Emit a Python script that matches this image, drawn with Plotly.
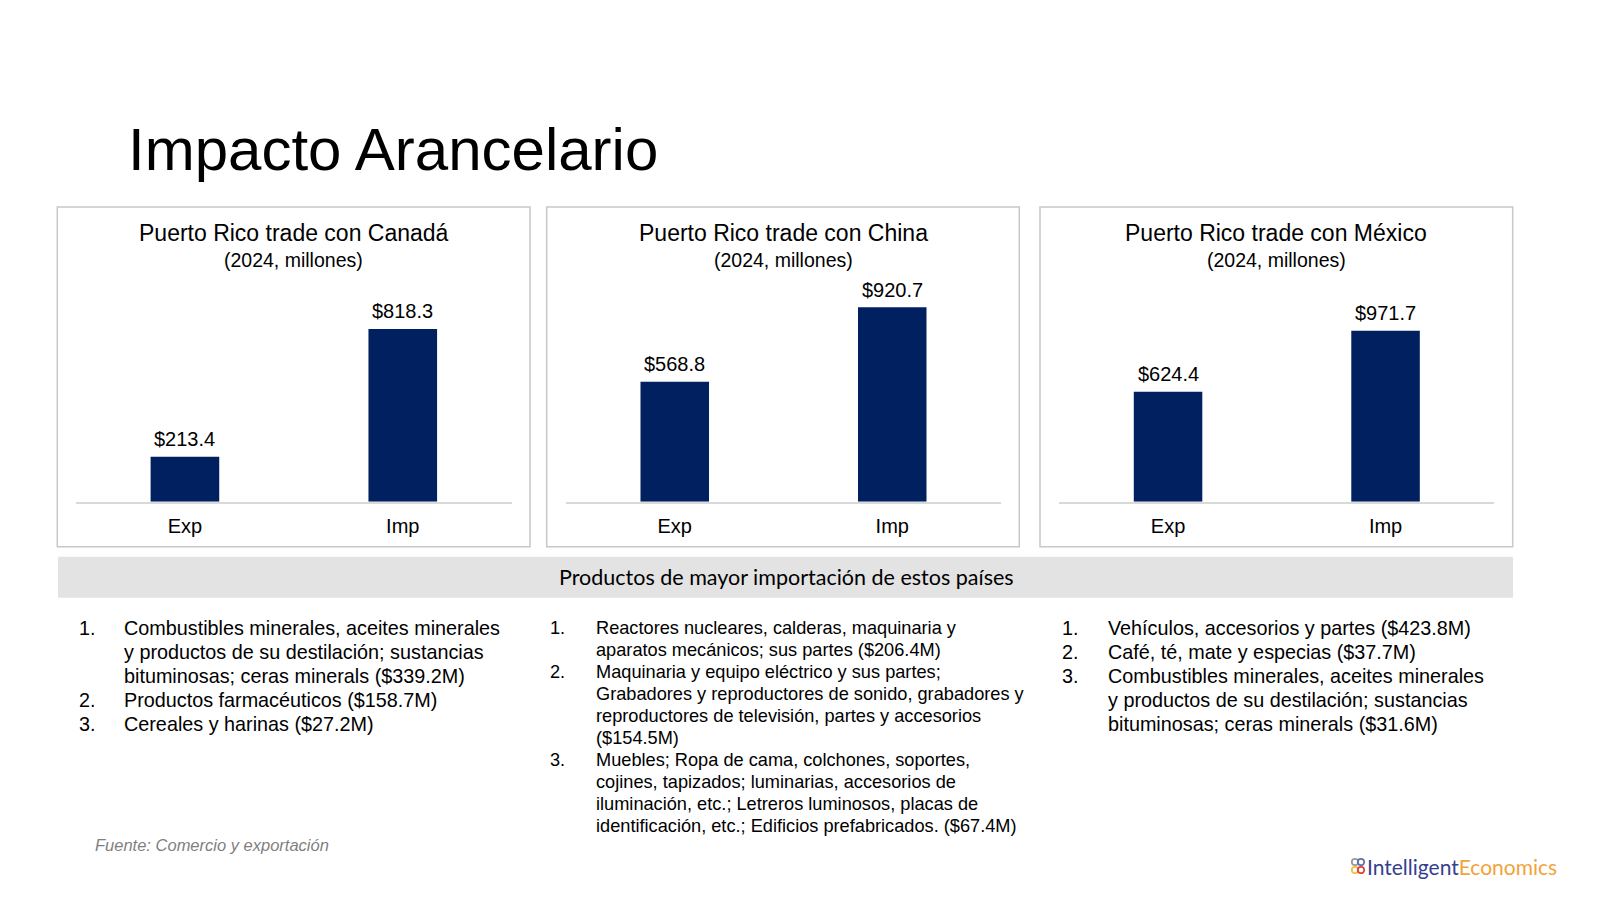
import plotly.graph_objects as go

# ---------------- data ----------------
categories = ["Exp", "Imp"]
countries = ["Canadá", "China", "México"]
canada_values = [213.4, 818.3]
china_values = [568.8, 920.7]
mexico_values = [624.4, 971.7]
panel_values = [canada_values, china_values, mexico_values]
y_max = [1000, 1000, 1200]

main_title = "Impacto Arancelario"
panel_title_fmt = "Puerto Rico trade con {}"
panel_subtitle = "(2024, millones)"
banner_text = "Productos de mayor importación de estos países"
source_text = "Fuente: Comercio y exportación"

canada_products = [
    ["Combustibles minerales, aceites minerales",
     "y productos de su destilación; sustancias",
     "bituminosas; ceras minerals ($339.2M)"],
    ["Productos farmacéuticos ($158.7M)"],
    ["Cereales y harinas ($27.2M)"],
]
china_products = [
    ["Reactores nucleares, calderas, maquinaria y",
     "aparatos mecánicos; sus partes ($206.4M)"],
    ["Maquinaria y equipo eléctrico y sus partes;",
     "Grabadores y reproductores de sonido, grabadores y",
     "reproductores de televisión, partes y accesorios",
     "($154.5M)"],
    ["Muebles; Ropa de cama, colchones, soportes,",
     "cojines, tapizados; luminarias, accesorios de",
     "iluminación, etc.; Letreros luminosos, placas de",
     "identificación, etc.; Edificios prefabricados. ($67.4M)"],
]
mexico_products = [
    ["Vehículos, accesorios y partes ($423.8M)"],
    ["Café, té, mate y especias ($37.7M)"],
    ["Combustibles minerales, aceites minerales",
     "y productos de su destilación; sustancias",
     "bituminosas; ceras minerals ($31.6M)"],
]
product_lists = [canada_products, china_products, mexico_products]

# ---------------- layout helpers (pixel -> paper) ----------------
W, H = 1600, 900
def px(x):
    return x / W
def py(y):
    return 1 - y / H

FONT = "Liberation Sans, Arial, sans-serif"
BAR_COLOR = "#002060"
BOX_COLOR = "#c8c8c8"

box_x = [(57.3, 530.0), (546.7, 1019.3), (1040.0, 1512.7)]
box_y = (207.0, 546.7)
axis_x = [(76.0, 511.7), (566.0, 1001.0), (1059.3, 1494.3)]
axis_y = (290.6, 501.7)

fig = go.Figure()
annotations = []
shapes = []
layout_axes = {}

for i in range(3):
    sfx = "" if i == 0 else str(i + 1)
    xa, ya = "x" + sfx, "y" + sfx
    fig.add_trace(go.Bar(
        x=categories, y=panel_values[i], xaxis=xa, yaxis=ya,
        marker=dict(color=BAR_COLOR, line=dict(width=0)),
        showlegend=False, hoverinfo="skip",
    ))
    layout_axes["xaxis" + sfx] = dict(
        domain=[px(axis_x[i][0]), px(axis_x[i][1])], anchor=ya,
        showline=True, linecolor="#d9d9d9", linewidth=1.5,
        showgrid=False, zeroline=False, ticks="",
        tickfont=dict(family=FONT, size=20, color="#000000"),
        ticklabelstandoff=6, fixedrange=True,
    )
    layout_axes["yaxis" + sfx] = dict(
        domain=[py(axis_y[1]), py(axis_y[0])], anchor=xa,
        range=[0, y_max[i]], visible=False, showgrid=False,
        zeroline=False, fixedrange=True,
    )
    # value labels
    for c, v in zip(categories, panel_values[i]):
        annotations.append(dict(
            xref=xa, yref=ya, x=c, y=v, text="$" + f"{v:.1f}",
            showarrow=False, yanchor="middle", yshift=17.7,
            font=dict(family=FONT, size=20, color="#000000"),
        ))
    # panel box
    shapes.append(dict(
        type="rect", xref="paper", yref="paper",
        x0=px(box_x[i][0]), x1=px(box_x[i][1]),
        y0=py(box_y[1]), y1=py(box_y[0]),
        line=dict(color=BOX_COLOR, width=1.5), fillcolor="rgba(0,0,0,0)",
        layer="below",
    ))
    cx = (box_x[i][0] + box_x[i][1]) / 2
    annotations.append(dict(
        xref="paper", yref="paper", x=px(cx), y=py(233.3),
        text=panel_title_fmt.format(countries[i]), showarrow=False,
        xanchor="center", yanchor="middle",
        font=dict(family=FONT, size=23, color="#000000"),
    ))
    annotations.append(dict(
        xref="paper", yref="paper", x=px(cx), y=py(260),
        text=panel_subtitle, showarrow=False,
        xanchor="center", yanchor="middle",
        font=dict(family=FONT, size=19.5, color="#000000"),
    ))

# main title
annotations.append(dict(
    xref="paper", yref="paper", x=px(126), y=py(149),
    text=main_title, showarrow=False, xanchor="left", yanchor="middle",
    font=dict(family=FONT, size=60, color="#000000"),
))

# banner
shapes.append(dict(
    type="rect", xref="paper", yref="paper",
    x0=px(58), x1=px(1513), y0=py(597.7), y1=py(556.7),
    line=dict(width=0), fillcolor="#e3e3e3", layer="below",
))
annotations.append(dict(
    xref="paper", yref="paper", x=px(786.7), y=py(577),
    text=banner_text, showarrow=False, xanchor="center", yanchor="middle",
    font=dict(family="Lato, Carlito, sans-serif", size=21.5, color="#000000"),
))

# product lists
list_cfg = [
    dict(num_x=76.5, txt_x=122.0, y0=627.5, dy=24.0, size=19.8),
    dict(num_x=548.0, txt_x=593.7, y0=628.0, dy=22.0, size=18.2),
    dict(num_x=1060.0, txt_x=1106.0, y0=627.5, dy=24.0, size=19.8),
]
for col, items in enumerate(product_lists):
    cfg = list_cfg[col]
    line = 0
    for k, item in enumerate(items):
        for j, txt in enumerate(item):
            yy = cfg["y0"] + line * cfg["dy"]
            if j == 0:
                annotations.append(dict(
                    xref="paper", yref="paper", x=px(cfg["num_x"]), y=py(yy),
                    text=f"{k + 1}.", showarrow=False,
                    xanchor="left", yanchor="middle",
                    font=dict(family=FONT, size=cfg["size"], color="#000000"),
                ))
            annotations.append(dict(
                xref="paper", yref="paper", x=px(cfg["txt_x"]), y=py(yy),
                text=txt, showarrow=False, xanchor="left", yanchor="middle",
                font=dict(family=FONT, size=cfg["size"], color="#000000"),
            ))
            line += 1

# source
annotations.append(dict(
    xref="paper", yref="paper", x=px(93), y=py(845),
    text="<i>" + source_text + "</i>", showarrow=False,
    xanchor="left", yanchor="middle",
    font=dict(family=FONT, size=16.5, color="#7f7f7f"),
))

# logo
annotations.append(dict(
    xref="paper", yref="paper", x=px(1365), y=py(866.5),
    text="<span style='color:#34408f'>Intelligent</span>"
         "<span style='color:#f2a33a'>Economics</span>",
    showarrow=False, xanchor="left", yanchor="middle",
    font=dict(family="Lato, sans-serif", size=21),
))
for (cx, cy, col) in [(1355, 862, "#9a9a9a"), (1361, 862, "#5d6fb0"),
                      (1355, 870, "#f2c13c"), (1361, 870, "#e0402f")]:
    shapes.append(dict(
        type="circle", xref="paper", yref="paper",
        x0=px(cx - 3.2), x1=px(cx + 3.2), y0=py(cy + 3.2), y1=py(cy - 3.2),
        line=dict(color=col, width=1.8), fillcolor="rgba(0,0,0,0)",
    ))

fig.update_layout(
    width=W, height=H, autosize=False,
    margin=dict(l=0, r=0, t=0, b=0, pad=0),
    paper_bgcolor="#ffffff", plot_bgcolor="rgba(0,0,0,0)",
    bargap=0.685, showlegend=False,
    annotations=annotations, shapes=shapes,
    font=dict(family=FONT, color="#000000"),
    **layout_axes,
)

fig.write_html("out.html", config={"displayModeBar": False},
               post_script="document.body.style.margin='0';")
